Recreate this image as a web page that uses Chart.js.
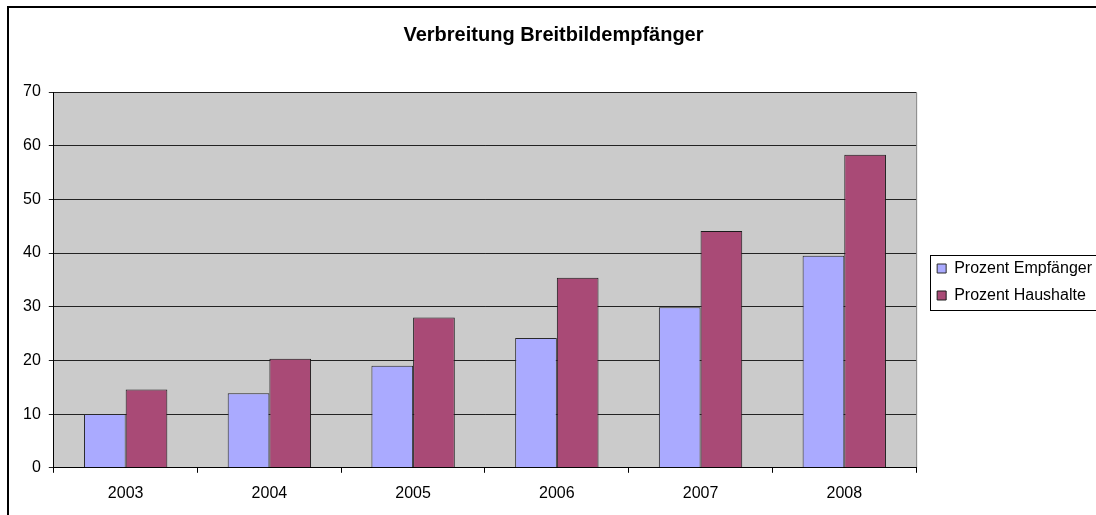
<!DOCTYPE html>
<html>
<head>
<meta charset="utf-8">
<script src="https://cdn.jsdelivr.net/npm/chart.js@4"></script>
<style>
  body { margin: 0; background: #fff; }
  #wrap { width: 1096px; height: 515px; position: relative; }
</style>
</head>
<body>
<div id="wrap"><canvas id="mainDiagramm" width="1096" height="515"></canvas></div>
<script>
var jahre = ["2003", "2004", "2005", "2006", "2007", "2008"];
var prozentEmpfaenger = [10, 13.9, 19, 24.2, 29.9, 39.5];
var prozentHaushalte = [14.6, 20.3, 28, 35.4, 44.1, 58.3];
var yTicks = [0, 10, 20, 30, 40, 50, 60, 70];

Chart.defaults.font.family = "'Liberation Sans', Arial, sans-serif";
Chart.defaults.color = "black";

// Verschiebung der Legende (wie in Excel etwas weiter rechts/unten)
var legendeDx = 10;
var legendeDy = 25;

// Rahmen, grauer Hintergrund und Legendenrahmen
var excelLook = {
    id: "excelLook",
    afterInit: function (chart) {
        var legende = chart.legend;
        var origDraw = legende.draw;
        legende.draw = function () {
            var c = this.ctx;
            c.save();
            c.translate(legendeDx, legendeDy);
            origDraw.apply(this, arguments);
            c.restore();
        };
    },
    beforeDraw: function (chart) {
        var ctx = chart.ctx;
        var a = chart.chartArea;
        ctx.save();
        ctx.fillStyle = "#cbcbcb";
        ctx.fillRect(a.left, a.top, a.right - a.left, a.bottom - a.top);
        ctx.strokeStyle = "#808080";
        ctx.lineWidth = 1;
        ctx.beginPath();
        ctx.moveTo(a.left, a.top + 0.5);
        ctx.lineTo(a.right + 0.5, a.top + 0.5);
        ctx.lineTo(a.right + 0.5, a.bottom);
        ctx.stroke();
        ctx.restore();
    },
    afterDraw: function (chart) {
        var ctx = chart.ctx;
        ctx.save();
        ctx.strokeStyle = "black";
        ctx.lineWidth = 2;
        ctx.strokeRect(8, 7, chart.width + 20, chart.height + 20);
        var boxes = chart.legend.legendHitBoxes;
        if (boxes && boxes.length) {
            var erste = boxes[0];
            var letzte = boxes[boxes.length - 1];
            var top = Math.round(erste.top + erste.height / 2 + legendeDy - 14);
            var bottom = Math.round(letzte.top + letzte.height / 2 + legendeDy + 14);
            var left = Math.round(erste.left + legendeDx - 7);
            ctx.lineWidth = 1;
            ctx.strokeRect(left + 0.5, top + 0.5, 300, bottom - top);
        }
        ctx.restore();
    }
};

var chartData = {
    labels: jahre,
    datasets: [
        {
            label: "Prozent Empfänger",
            data: prozentEmpfaenger,
            backgroundColor: "#aaaaff",
            borderColor: "#2a2a2a",
            borderWidth: 1,
        },
        {
            label: "Prozent Haushalte",
            data: prozentHaushalte,
            backgroundColor: "#a94a76",
            borderColor: "#1a1a1a",
            borderWidth: 1,
        },
    ],
};

var options = {
    responsive: false,
    animation: false,
    layout: {
        padding: { left: 15, right: 4, top: 0, bottom: 1 },
    },
    datasets: {
        bar: { categoryPercentage: 0.58, barPercentage: 1 },
    },
    plugins: {
        title: {
            display: true,
            text: "Verbreitung Breitbildempfänger",
            font: { size: 20, weight: "bold" },
            color: "black",
            padding: { top: 23, bottom: 45 },
        },
        legend: {
            position: "right",
            labels: {
                boxWidth: 9,
                boxHeight: 9,
                padding: 11,
                font: { size: 16 },
                color: "black",
            },
        },
        tooltip: { enabled: false },
    },
    scales: {
        y: {
            min: 0,
            max: 70,
            afterBuildTicks: function (axis) {
                axis.ticks = yTicks.map(function (v) { return { value: v }; });
            },
            ticks: { font: { size: 16 }, color: "black", padding: 8 },
            grid: { color: "#222222", tickLength: 5, lineWidth: 1 },
            border: { display: true, color: "black" },
        },
        x: {
            ticks: { font: { size: 16 }, color: "black", padding: 11 },
            grid: { offset: true, drawOnChartArea: false, tickLength: 5, color: "black" },
            border: { display: true, color: "black" },
        },
    },
};

var ctx = document.getElementById("mainDiagramm").getContext("2d");
var myChart = new Chart(ctx, {
    type: "bar",
    data: chartData,
    options: options,
    plugins: [excelLook],
});
</script>
</body>
</html>
